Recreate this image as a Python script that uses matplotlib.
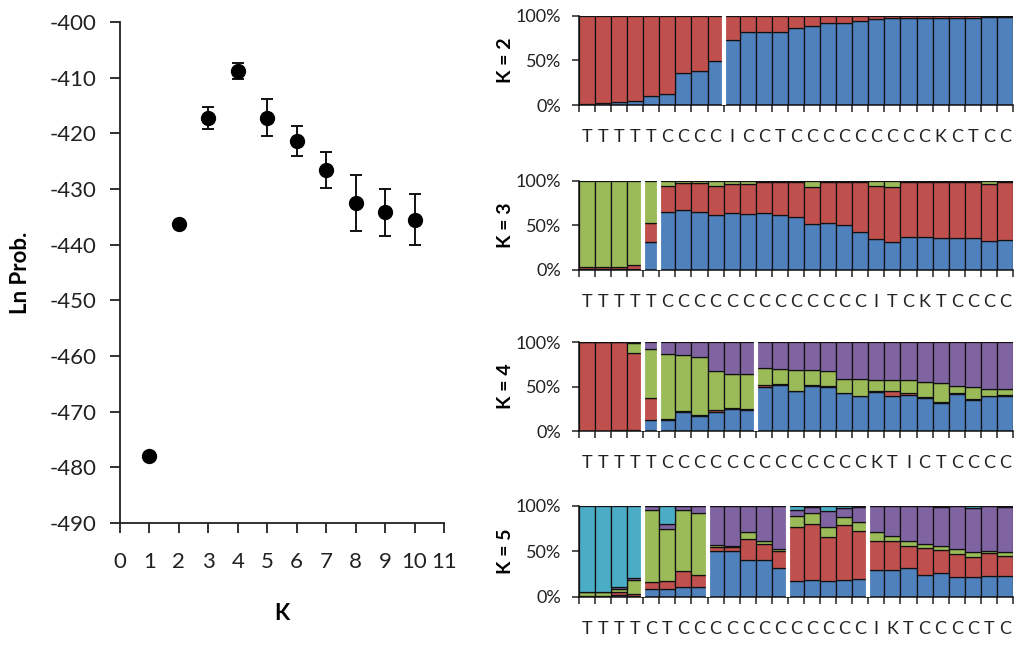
import matplotlib
matplotlib.use('Agg')
import matplotlib.pyplot as plt
import numpy as np

plt.rcParams['font.family'] = ['Lato', 'DejaVu Sans']
plt.rcParams['axes.unicode_minus'] = False
plt.rcParams['text.color'] = '#222222'
plt.rcParams['xtick.color'] = '#222222'
plt.rcParams['ytick.color'] = '#222222'

# Left panel: mean Ln Prob. per K with error bars
k_vals = [1, 2, 3, 4, 5, 6, 7, 8, 9, 10]
ln_prob = [-478.0, -436.3, -417.2, -408.8, -417.2, -421.4, -426.6, -432.5, -434.2, -435.5]
ln_err = [0.0, 0.0, 2.0, 1.5, 3.3, 2.7, 3.3, 5.0, 4.2, 4.6]

# Right panels: membership proportions (%) per individual
lab_k2 = "TTTTTCCCCICCTCCCCCCCCCKCTCC"
lab_k3 = "TTTTTCCCCCCCCCCCCCITCKTCCCC"
lab_k4 = "TTTTTCCCCCCCCCCCCCKTICTCCCC"
lab_k5 = "TTTTCTCCCCCCCCCCCCIKTCCCCTC"

k2_blue = [1, 2, 3, 4, 10, 12, 36, 38.5, 49, 73, 81.5, 82, 82, 86, 88.5, 92, 92.5, 94, 97, 97.5, 97.5, 98, 98, 98, 98, 99, 99]
k2_red = [99, 98, 97, 96, 90, 88, 64, 61.5, 51, 27, 18.5, 18, 18, 14, 11.5, 8, 7.5, 6, 3, 2.5, 2.5, 2, 2, 2, 2, 1, 1]

k3_blue = [1, 1, 1, 1, 32, 65, 67, 65.5, 62, 64.5, 63, 64.5, 62, 60, 52, 53, 51, 43, 35, 32, 37.5, 37, 36, 35.5, 35.5, 33, 34]
k3_red = [2, 2, 2, 5, 21, 29, 31, 32.5, 32, 32.5, 34, 34.5, 37, 39, 41, 46, 48, 56, 59, 61, 61.5, 62, 63, 63.5, 63.5, 64, 65]
k3_green = [97, 97, 97, 94, 47, 6, 2, 2, 6, 3, 3, 1, 1, 1, 7, 1, 1, 1, 6, 7, 1, 1, 1, 1, 1, 3, 1]

k4_blue = [0.5, 0.5, 1, 1, 12, 12, 21.5, 17, 21.5, 25, 24, 49, 52, 45, 51, 50, 42.5, 39, 44, 39, 40, 37.5, 32, 41.5, 35, 39, 39.5]
k4_red = [99.5, 99.5, 99, 87, 25, 1, 1, 1, 2, 0.5, 0.5, 3, 0.5, 0.5, 0.5, 0.5, 0.5, 0.5, 0.5, 6, 2.5, 0.5, 0.5, 1.5, 0.5, 0.5, 0.5]
k4_green = [0, 0, 0, 11, 55, 74, 62.5, 65, 43.5, 38.5, 39, 18.5, 17, 23.5, 16.5, 16.5, 16, 18.5, 12.5, 12, 14.5, 17, 21.5, 8, 13.5, 7.5, 7]
k4_purple = [0, 0, 0, 1, 8, 13, 15, 17, 33, 36, 36.5, 29.5, 30.5, 31, 32, 33, 41, 42, 43, 43, 43, 45, 46, 49, 51, 53, 53]

k5_blue = [0.5, 0.5, 2, 1, 8.5, 9, 10.5, 11, 50, 50, 41, 41, 31.5, 18, 18.5, 18, 18.5, 19.5, 30, 29.5, 31.5, 24, 26.5, 22, 22, 23, 23]
k5_red = [1, 1, 3, 2, 8, 9, 18.5, 13, 5, 5, 23, 17.5, 19.5, 59, 62, 48, 60.5, 53.5, 31, 32.5, 25, 29.5, 25.5, 25, 21.5, 25, 22]
k5_green = [4, 4, 4, 16, 79.5, 57, 66.5, 68, 2, 0.5, 7, 2.5, 2, 12.5, 11.5, 11, 9, 9.5, 10, 4.5, 4.5, 4.5, 3.5, 5.5, 5.5, 3, 4]
k5_purple = [0, 0, 2, 2, 4, 5, 4.5, 8, 43, 44.5, 29, 39, 47, 6.5, 7, 17.5, 10, 16.5, 29, 33.5, 39, 42, 43.5, 47.5, 49, 49, 50]
k5_cyan = [94.5, 94.5, 89, 79, 0, 20, 0, 0, 0, 0, 0, 0, 0, 4, 1, 5.5, 2, 1, 0, 0, 0, 0, 1, 0, 2, 0, 1]

BLUE, RED, GREEN, PURPLE, CYAN = '#4F81BD', '#C0504D', '#9BBB59', '#8064A2', '#4BACC6'

panels = [
    ("K = 2", lab_k2, [k2_blue, k2_red], [BLUE, RED], [9]),
    ("K = 3", lab_k3, [k3_blue, k3_red, k3_green], [BLUE, RED, GREEN], [4, 5]),
    ("K = 4", lab_k4, [k4_blue, k4_red, k4_green, k4_purple], [BLUE, RED, GREEN, PURPLE], [4, 5, 11]),
    ("K = 5", lab_k5, [k5_blue, k5_red, k5_green, k5_purple, k5_cyan], [BLUE, RED, GREEN, PURPLE, CYAN], [4, 8, 13, 18]),
]
panel_pos = [(0.8377, 0.1376), (0.5827, 0.1376), (0.3338, 0.1376), (0.0773, 0.1407)]

fig = plt.figure(figsize=(10.24, 6.47), dpi=100)

# ---- left: Ln Prob vs K
ax = fig.add_axes([0.1172, 0.1917, 0.3164, 0.7743])
ax.errorbar(k_vals, ln_prob, yerr=ln_err, fmt='o', color='black', markersize=10,
            ecolor='#111111', elinewidth=1.4, capsize=4, capthick=1.4)
ax.set_xlim(0, 11)
ax.set_ylim(-490, -400)
ax.set_xticks(range(0, 12))
ax.set_yticks(range(-490, -399, 10))
for s in ['top', 'right']:
    ax.spines[s].set_visible(False)
for s in ['left', 'bottom']:
    ax.spines[s].set_linewidth(1.3)
    ax.spines[s].set_color('#222222')
ax.tick_params(axis='both', direction='out', length=7, width=1.3, labelsize=16)
ax.tick_params(axis='y', pad=10)
ax.tick_params(axis='x', pad=14)
ax.set_ylabel("Ln Prob.", fontsize=16, fontweight='bold')
ax.yaxis.set_label_coords(-0.275, 0.5)
ax.set_xlabel("K", fontsize=16, fontweight='bold')
ax.xaxis.set_label_coords(0.5, -0.16)

# ---- right: stacked membership bars
for (title, labels, comps, cols, breaks), (b, h) in zip(panels, panel_pos):
    bx = fig.add_axes([0.5654, b, 0.4238, h])
    x = np.arange(len(labels))
    bottom = np.zeros(len(labels))
    for vals, c in zip(comps, cols):
        bx.bar(x, vals, width=1.0, bottom=bottom, color=c, edgecolor='#111111', linewidth=0.9)
        bottom += np.array(vals)
    for br in breaks:
        bx.axvline(br - 0.5, color='white', linewidth=3, zorder=5)
    bx.set_xlim(-0.5, len(labels) - 0.5)
    bx.set_ylim(0, 100)
    bx.set_yticks([0, 50, 100])
    bx.set_yticklabels(['0%', '50%', '100%'])
    bx.set_xticks(x)
    bx.set_xticklabels(list(labels))
    bx.set_xticks(np.arange(-0.5, len(labels)), minor=True)
    bx.tick_params(axis='x', which='major', length=0, pad=17, labelsize=13)
    bx.tick_params(axis='x', which='minor', direction='out', length=5, width=1.1)
    bx.tick_params(axis='y', direction='out', length=5, width=1.1, labelsize=13, pad=8)
    for s in ['top', 'right']:
        bx.spines[s].set_visible(False)
    for s in ['left', 'bottom']:
        bx.spines[s].set_linewidth(1.1)
        bx.spines[s].set_color('#111111')
    bx.set_ylabel(title, fontsize=14, fontweight='bold')
    bx.yaxis.set_label_coords(-0.15, 0.5)

fig.savefig('out.png', dpi=100)
